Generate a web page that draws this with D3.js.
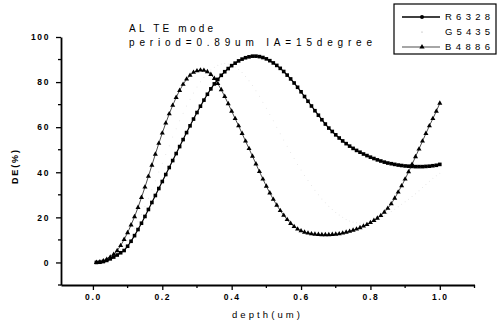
<!DOCTYPE html>
<html>
<head>
<meta charset="utf-8">
<script src="https://cdn.jsdelivr.net/npm/d3@7"></script>
<style>
  body { margin: 0; background: #fff; }
  svg { display: block; font-family: 'Liberation Sans', Arial, sans-serif; }
</style>
</head>
<body>
<script>
// depth (um)
const depth = [0.01,0.02,0.03,0.04,0.05,0.06,0.07,0.08,0.09,0.10,
  0.11,0.12,0.13,0.14,0.15,0.16,0.17,0.18,0.19,0.20,
  0.21,0.22,0.23,0.24,0.25,0.26,0.27,0.28,0.29,0.30,
  0.31,0.32,0.33,0.34,0.35,0.36,0.37,0.38,0.39,0.40,
  0.41,0.42,0.43,0.44,0.45,0.46,0.47,0.48,0.49,0.50,
  0.51,0.52,0.53,0.54,0.55,0.56,0.57,0.58,0.59,0.60,
  0.61,0.62,0.63,0.64,0.65,0.66,0.67,0.68,0.69,0.70,
  0.71,0.72,0.73,0.74,0.75,0.76,0.77,0.78,0.79,0.80,
  0.81,0.82,0.83,0.84,0.85,0.86,0.87,0.88,0.89,0.90,
  0.91,0.92,0.93,0.94,0.95,0.96,0.97,0.98,0.99,1.00]

// DE (%) for each wavelength
const r6328 = [0.0,0.1,0.4,0.9,1.6,2.4,3.3,4.3,5.3,7.2,
  9.4,11.9,14.6,17.4,20.4,23.5,26.6,29.7,32.8,35.9,
  39.0,42.1,45.2,48.3,51.4,54.5,57.6,60.6,63.6,66.5,
  69.3,72.0,74.6,77.0,79.2,81.2,83.0,84.6,86.0,87.3,
  88.4,89.4,90.2,90.8,91.2,91.5,91.5,91.3,90.9,90.3,
  89.5,88.5,87.4,86.1,84.7,83.1,81.4,79.6,77.7,75.7,
  73.6,71.5,69.4,67.3,65.3,63.3,61.4,59.6,58.1,56.6,
  55.2,53.9,52.7,51.6,50.6,49.7,48.9,48.1,47.4,46.7,
  46.1,45.5,45.0,44.5,44.1,43.8,43.5,43.2,43.0,42.8,
  42.7,42.6,42.5,42.5,42.5,42.6,42.7,42.9,43.1,43.5]

const g5435 = [0.0,0.1,0.5,1.1,1.9,2.9,4.1,5.6,7.4,9.6,
  12.1,14.9,18.0,21.3,24.8,28.5,32.3,36.2,40.1,44.0,
  47.9,51.8,55.6,59.3,62.8,66.2,69.4,72.4,75.2,77.8,
  80.1,82.1,83.9,85.4,86.6,87.5,88.0,88.2,88.0,87.5,
  86.7,85.6,84.2,82.5,80.6,78.5,76.2,73.7,71.1,68.4,
  65.6,62.8,60.0,57.1,54.3,51.5,48.8,46.1,43.5,41.0,
  38.6,36.3,34.1,32.0,30.0,28.2,26.5,24.9,23.5,22.2,
  21.0,20.0,19.1,18.4,17.9,17.6,17.5,17.6,17.8,18.1,
  18.6,19.2,19.9,20.7,21.6,22.6,23.6,24.7,25.8,26.9,
  28.0,29.2,30.5,31.8,33.2,34.6,36.0,37.3,38.5,39.6]

const b4886 = [0.0,0.2,0.7,1.4,2.4,3.6,5.2,7.5,10.2,13.2,
  16.6,20.3,24.4,28.8,33.4,38.2,43.1,48.0,52.8,57.4,
  61.8,65.9,69.7,73.2,76.3,79.0,81.3,83.0,84.3,85.0,
  85.3,85.2,84.6,83.4,81.6,79.3,76.6,73.6,70.4,67.1,
  63.8,60.6,57.2,53.8,50.5,47.1,43.7,40.3,37.0,33.8,
  30.8,28.0,25.4,23.0,20.9,19.0,17.3,15.9,14.8,14.0,
  13.4,13.0,12.7,12.5,12.4,12.3,12.3,12.3,12.4,12.5,
  12.7,13.0,13.4,13.8,14.3,14.8,15.4,16.1,16.8,17.7,
  18.6,19.6,20.8,22.3,24.0,26.0,28.5,31.2,34.0,37.0,
  40.2,43.5,46.9,50.3,53.8,57.2,60.6,63.8,67.1,70.6]

const seriesNames = ['R6328', 'G5435', 'B4886']
const xMajor = [0.0, 0.2, 0.4, 0.6, 0.8, 1.0]
const xMinor = [0.1, 0.3, 0.5, 0.7, 0.9, 1.1]
const yMajor = [0, 20, 40, 60, 80, 100]
const yMinor = [-10, 10, 30, 50, 70, 90]
const titleLines = ['AL TE mode', 'period=0.89um  IA=15degree']

const width = 499
const height = 327

const svg = d3.select('body').append('svg')
  .attr('width', width)
  .attr('height', height)

const x = d3.scaleLinear().domain([-0.092, 1.1]).range([61, 474.5])
const y = d3.scaleLinear().domain([-10, 100]).range([285, 37])

// axes
const xAxis = svg.append('g')
  .attr('transform', `translate(0, ${y(-10)})`)
  .call(d3.axisBottom(x).tickValues(xMajor).tickSize(5).tickPadding(4)
    .tickFormat(d3.format('.1f')).tickSizeOuter(0))
xAxis.append('g').selectAll('line')
  .data(xMinor)
  .enter()
  .append('line')
  .attr('x1', d => x(d)).attr('x2', d => x(d))
  .attr('y1', 0).attr('y2', 3)
  .attr('stroke', '#000').attr('stroke-width', 1.3)

const yAxis = svg.append('g')
  .attr('transform', `translate(${x(-0.092)}, 0)`)
  .call(d3.axisLeft(y).tickValues(yMajor).tickSize(5).tickPadding(6).tickSizeOuter(0))
yAxis.append('g').selectAll('line')
  .data(yMinor)
  .enter()
  .append('line')
  .attr('y1', d => y(d)).attr('y2', d => y(d))
  .attr('x1', 0).attr('x2', -3)
  .attr('stroke', '#000').attr('stroke-width', 1.3)

svg.selectAll('.domain').attr('stroke', '#000').attr('stroke-width', 1.8)
svg.selectAll('.tick line').attr('stroke', '#000').attr('stroke-width', 1.3)
svg.selectAll('.tick text')
  .attr('fill', '#000')
  .attr('font-size', '8.5px')
  .attr('font-weight', 'bold')
  .attr('font-family', "'Liberation Sans', Arial, sans-serif")
  .style('letter-spacing', '1.6px')

// axis titles
svg.append('text')
  .attr('x', 266).attr('y', 318)
  .attr('text-anchor', 'middle')
  .attr('font-size', '9.5px')
  .attr('textLength', 68)
  .attr('lengthAdjust', 'spacing')
  .text('depth(um)')

svg.append('text')
  .attr('transform', 'translate(18, 167) rotate(-90)')
  .attr('text-anchor', 'middle')
  .attr('font-size', '9px')
  .attr('font-weight', 'bold')
  .attr('textLength', 34)
  .attr('lengthAdjust', 'spacing')
  .text('DE(%)')

// title
svg.append('text')
  .attr('x', 129).attr('y', 32)
  .attr('font-size', '10px')
  .attr('textLength', 84)
  .attr('lengthAdjust', 'spacing')
  .text(titleLines[0])
svg.append('text')
  .attr('x', 129).attr('y', 46)
  .attr('font-size', '10px')
  .attr('textLength', 243)
  .attr('lengthAdjust', 'spacing')
  .text(titleLines[1])

// curves
const pts = vals => depth.map((d, i) => [d, vals[i]])
const line = d3.line().x(d => x(d[0])).y(d => y(d[1]))

// the G series is almost lost in the scan: tiny, very light dots
const gG = svg.append('g')
gG.selectAll('circle')
  .data(pts(g5435))
  .enter()
  .append('circle')
  .attr('cx', d => x(d[0])).attr('cy', d => y(d[1]))
  .attr('r', 0.5)
  .attr('fill', '#e2e2e2')

const gB = svg.append('g')
gB.append('path')
  .datum(pts(b4886))
  .attr('d', line)
  .attr('fill', 'none')
  .attr('stroke', '#000')
  .attr('stroke-width', 0.7)
gB.selectAll('path.m')
  .data(pts(b4886))
  .enter()
  .append('path')
  .attr('class', 'm')
  .attr('transform', d => `translate(${x(d[0])}, ${y(d[1])})`)
  .attr('d', d3.symbol(d3.symbolTriangle, 11))
  .attr('fill', '#000')

const gR = svg.append('g')
gR.append('path')
  .datum(pts(r6328))
  .attr('d', line)
  .attr('fill', 'none')
  .attr('stroke', '#000')
  .attr('stroke-width', 1.2)
gR.selectAll('rect')
  .data(pts(r6328))
  .enter()
  .append('rect')
  .attr('x', d => x(d[0]) - 1.8).attr('y', d => y(d[1]) - 1.8)
  .attr('width', 3.6).attr('height', 3.6)
  .attr('fill', '#000')

// legend
const legend = svg.append('g')
legend.append('rect')
  .attr('x', 394).attr('y', 4)
  .attr('width', 102).attr('height', 50)
  .attr('fill', 'none')
  .attr('stroke', '#000')
  .attr('stroke-width', 1.2)

const rowY = [17, 32, 47]
seriesNames.forEach((name, i) => {
  const yy = rowY[i]
  if (i === 0) {
    legend.append('line').attr('x1', 402).attr('x2', 440).attr('y1', yy).attr('y2', yy)
      .attr('stroke', '#000').attr('stroke-width', 1.6)
    legend.append('circle').attr('cx', 422).attr('cy', yy).attr('r', 2).attr('fill', '#000')
  } else if (i === 1) {
    legend.append('circle').attr('cx', 422).attr('cy', yy).attr('r', 0.6).attr('fill', '#999')
  } else {
    legend.append('line').attr('x1', 402).attr('x2', 440).attr('y1', yy).attr('y2', yy)
      .attr('stroke', '#000').attr('stroke-width', 0.7)
    legend.append('path').attr('transform', `translate(422, ${yy})`)
      .attr('d', d3.symbol(d3.symbolTriangle, 12)).attr('fill', '#000')
  }
  legend.append('text')
    .attr('x', 445).attr('y', yy + 3.4)
    .attr('font-size', '9.5px')
    .attr('textLength', 45)
    .attr('lengthAdjust', 'spacing')
    .text(name)
})
</script>
</body>
</html>
